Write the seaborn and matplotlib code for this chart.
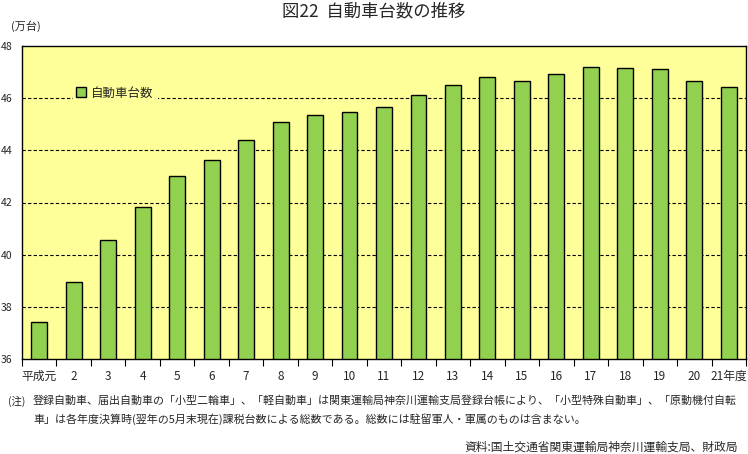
import matplotlib
matplotlib.use("Agg")
import matplotlib.pyplot as plt
import seaborn as sns
import pandas as pd
from matplotlib.patches import Patch

years = ["平成元", "2", "3", "4", "5", "6", "7", "8", "9", "10", "11", "12",
         "13", "14", "15", "16", "17", "18", "19", "20", "21年度"]
vehicles = [37.42, 38.95, 40.55, 41.82, 43.01, 43.62, 44.38, 45.08, 45.35, 45.46,
            45.66, 46.11, 46.50, 46.80, 46.66, 46.92, 47.19, 47.15, 47.10, 46.65, 46.42]
yticks = [36, 38, 40, 42, 44, 46, 48]
series_name = "自動車台数"

sns.set_theme(style="white")
plt.rcParams['font.family'] = ['Noto Sans CJK JP', 'DejaVu Sans']

df = pd.DataFrame({"year": years, "value": vehicles})

fig = plt.figure(figsize=(7.48, 4.54), dpi=100)
ax = fig.add_axes([22/748, 95/454, 724/748, 313/454])
ax.set_facecolor("#FFFF99")

sns.barplot(data=df, x="year", y="value", order=years, color="#92D050",
            edgecolor="black", linewidth=1.0, width=0.46, saturation=1, ax=ax)

ax.set_ylim(36, 48)
ax.set_xlim(-0.5, len(years) - 0.5)
ax.set_yticks(yticks)
ax.set_yticklabels([str(t) for t in yticks], fontsize=7.5)
for t in yticks[1:-1]:
    ax.axhline(t, color="black", linestyle=(0, (3, 2)), linewidth=0.8, zorder=0.5)
for b in ax.patches:
    b.set_zorder(2)

ax.set_xlabel("")
ax.set_ylabel("")
ax.set_xticks(range(len(years)))
ax.set_xticklabels(years, fontsize=8.5)
ax.tick_params(axis="x", length=0, pad=8)
ax.tick_params(axis="y", length=0, pad=7)
# category boundary ticks
ax.set_xticks([i - 0.5 for i in range(len(years) + 1)], minor=True)
ax.tick_params(axis="x", which="minor", length=5, direction="out", color="black", width=0.8)
ax.xaxis.set_ticks_position("bottom")

for s in ax.spines.values():
    s.set_color("black")
    s.set_linewidth(1.0)

leg = ax.legend(handles=[Patch(facecolor="#92D050", edgecolor="black", label=series_name)],
                loc="center left", bbox_to_anchor=(0.07, 0.85), fontsize=9,
                frameon=True, handlelength=0.8, handleheight=0.8, handletextpad=0.4,
                borderpad=0.3, borderaxespad=0, fancybox=False)
leg.get_frame().set_facecolor("#FFFF99")
leg.get_frame().set_edgecolor("none")
leg.get_frame().set_alpha(1)
leg.set_zorder(3)

fig.text(374/748, 1 - 11/454, "図22  自動車台数の推移", ha="center", va="center", fontsize=12.5)
fig.text(11/748, 1 - 26/454, "(万台)", ha="left", va="center", fontsize=8)

fig.text(8/748, 1 - 401/454, "(注)", ha="left", va="center", fontsize=7.5)
fig.text(33/748, 1 - 401/454,
         "登録自動車、届出自動車の「小型二輪車」、「軽自動車」は関東運輸局神奈川運輸支局登録台帳により、「小型特殊自動車」、「原動機付自転",
         ha="left", va="center", fontsize=7.9)
fig.text(33/748, 1 - 419/454,
         "車」は各年度決算時(翌年の5月末現在)課税台数による総数である。総数には駐留軍人・軍属のものは含まない。",
         ha="left", va="center", fontsize=7.9)
fig.text(738/748, 1 - 447/454, "資料:国土交通省関東運輸局神奈川運輸支局、財政局",
         ha="right", va="center", fontsize=8.5)

fig.savefig("out.png", dpi=100)
